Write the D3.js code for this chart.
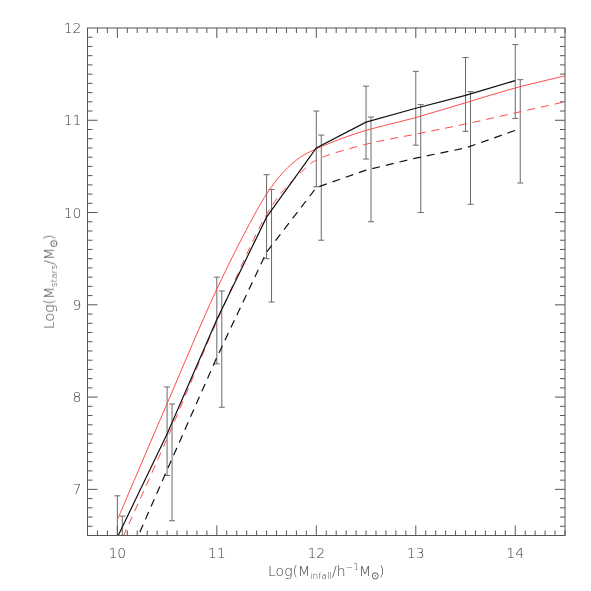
<!DOCTYPE html>
<html>
<head>
<meta charset="utf-8">
<script src="https://cdn.jsdelivr.net/npm/d3@7"></script>
<style>
    body { margin: 0; background: #fff; }
    text { font-family: 'DejaVu Sans', 'Liberation Sans', sans-serif; font-weight: 200; fill: #3a3a3a; }
    .labels { opacity: 0.99; }
</style>
</head>
<body>
<div id="chart"></div>
<script>
// binned halo mass (black curves + error bars)
const massBins = [10, 10.5, 11, 11.5, 12, 12.5, 13, 13.5, 14];
const solidMedian = [6.48, 7.6, 8.84, 9.95, 10.7, 10.98, 11.13, 11.27, 11.43];
const dashedMedian = [5.98, 7.21, 8.43, 9.57, 10.27, 10.46, 10.59, 10.7, 10.89];
const solidHi = [6.93, 8.11, 9.3, 10.41, 11.1, 11.37, 11.53, 11.68, 11.82];
const solidLo = [6.03, 7.15, 8.36, 9.5, 10.28, 10.58, 10.73, 10.88, 11.02];
const dashedHi = [6.71, 7.925, 9.15, 10.25, 10.84, 11.035, 11.17, 11.31, 11.44];
const dashedLo = [5.25, 6.66, 7.89, 9.03, 9.7, 9.9, 10.0, 10.09, 10.32];
const binOffset = 0.05;

// red model curves
const fitX = [10, 10.5, 11, 11.33, 11.5, 11.67, 11.84, 12, 12.25, 12.5, 13, 13.5, 14, 14.5];
const fitSolid = [6.67, 7.93, 9.17, 9.88, 10.2, 10.44, 10.6, 10.69, 10.8, 10.89, 11.03, 11.19, 11.35, 11.48];
const fitDashedX = [10, 10.5, 11, 11.5, 11.67, 11.88, 12, 12.5, 13, 13.5, 14, 14.5];
const fitDashed = [6.35, 7.55, 8.82, 9.98, 10.24, 10.47, 10.57, 10.74, 10.85, 10.96, 11.08, 11.2];

const xTicks = [10, 11, 12, 13, 14];
const yTicks = [7, 8, 9, 10, 11, 12];

const width = 591, height = 591;
const margin = { top: 28, right: 26, bottom: 55.5, left: 87.5 };

const x = d3.scaleLinear().domain([9.7, 14.5]).range([margin.left, width - margin.right]);
const y = d3.scaleLinear().domain([6.5, 12]).range([height - margin.bottom, margin.top]);

const svg = d3.select('#chart').append('svg').attr('width', width).attr('height', height);

svg.append('clipPath').attr('id', 'plot')
    .append('rect')
    .attr('x', x(9.7)).attr('y', y(12))
    .attr('width', x(14.5) - x(9.7)).attr('height', y(6.5) - y(12));

const plot = svg.append('g').attr('clip-path', 'url(#plot)');

// error bars
function errorBars(xs, hi, lo) {
    const g = plot.append('g').attr('stroke', '#6a6a6a').attr('stroke-width', 1);
    xs.forEach((v, i) => {
        g.append('line').attr('x1', x(v)).attr('x2', x(v)).attr('y1', y(hi[i])).attr('y2', y(lo[i]));
        [hi[i], lo[i]].forEach((e) =>
            g.append('line').attr('x1', x(v) - 3).attr('x2', x(v) + 3).attr('y1', y(e)).attr('y2', y(e))
        );
    });
}
errorBars(massBins, solidHi, solidLo);
errorBars(massBins.map((d) => d + binOffset), dashedHi, dashedLo);

const line = d3.line().x((d) => x(d[0])).y((d) => y(d[1]));
const smooth = d3.line().x((d) => x(d[0])).y((d) => y(d[1])).curve(d3.curveCatmullRom.alpha(0.5));

plot.append('path')
    .attr('d', smooth(d3.zip(fitX, fitSolid)))
    .attr('fill', 'none').attr('stroke', '#ff4a4a').attr('stroke-width', 1);
plot.append('path')
    .attr('d', smooth(d3.zip(fitDashedX, fitDashed)))
    .attr('fill', 'none').attr('stroke', '#ff4a4a').attr('stroke-width', 1)
    .attr('stroke-dasharray', '8,6');
plot.append('path')
    .attr('d', line(d3.zip(massBins, solidMedian)))
    .attr('fill', 'none').attr('stroke', '#111').attr('stroke-width', 1.2);
plot.append('path')
    .attr('d', line(d3.zip(massBins, dashedMedian)))
    .attr('fill', 'none').attr('stroke', '#111').attr('stroke-width', 1.2)
    .attr('stroke-dasharray', '8,6');

// frame with inward ticks on all four sides
const minorX = d3.range(98, 146).map((d) => d / 10);
const minorY = d3.range(66, 120).map((d) => d / 10);
const isMajor = (v) => Math.abs(v - Math.round(v)) < 1e-6;

const axisG = svg.append('g').attr('stroke', '#555').attr('stroke-width', 1);
axisG.append('rect')
    .attr('x', x(9.7)).attr('y', y(12))
    .attr('width', x(14.5) - x(9.7)).attr('height', y(6.5) - y(12))
    .attr('fill', 'none');

minorX.forEach((v) => {
    const len = isMajor(v) ? 10 : 5;
    axisG.append('line').attr('x1', x(v)).attr('x2', x(v)).attr('y1', y(6.5)).attr('y2', y(6.5) - len);
    axisG.append('line').attr('x1', x(v)).attr('x2', x(v)).attr('y1', y(12)).attr('y2', y(12) + len);
});
minorY.forEach((v) => {
    const len = isMajor(v) ? 10 : 5;
    axisG.append('line').attr('x1', x(9.7)).attr('x2', x(9.7) + len).attr('y1', y(v)).attr('y2', y(v));
    axisG.append('line').attr('x1', x(14.5)).attr('x2', x(14.5) - len).attr('y1', y(v)).attr('y2', y(v));
});

const labels = svg.append('g').attr('class', 'labels');

labels.append('g').selectAll('text')
    .data(xTicks)
    .join('text')
    .attr('x', (d) => x(d))
    .attr('y', y(6.5) + 22)
    .attr('text-anchor', 'middle')
    .style('font-size', '14px')
    .text((d) => d);

labels.append('g').selectAll('text')
    .data(yTicks)
    .join('text')
    .attr('x', x(9.7) - 6)
    .attr('y', (d) => y(d) + 5)
    .attr('text-anchor', 'end')
    .style('font-size', '14px')
    .text((d) => d);

// axis titles
const xTitle = labels.append('text')
    .attr('x', (x(9.7) + x(14.5)) / 2)
    .attr('y', y(6.5) + 40)
    .attr('text-anchor', 'middle')
    .style('font-size', '14px');
xTitle.append('tspan').text('Log(M');
xTitle.append('tspan').attr('baseline-shift', '-3').style('font-size', '9px').text('infall');
xTitle.append('tspan').text('/h');
xTitle.append('tspan').attr('baseline-shift', '6').style('font-size', '9px').text('\u22121');
xTitle.append('tspan').text('M');
xTitle.append('tspan').attr('baseline-shift', '-3').style('font-size', '10px').text('\u2299');
xTitle.append('tspan').text(')');

const yTitle = labels.append('text')
    .attr('transform', `translate(54,${(y(6.5) + y(12)) / 2}) rotate(-90)`)
    .attr('text-anchor', 'middle')
    .style('font-size', '14px');
yTitle.append('tspan').text('Log(M');
yTitle.append('tspan').attr('baseline-shift', '-3').style('font-size', '9px').text('stars');
yTitle.append('tspan').text('/M');
yTitle.append('tspan').attr('baseline-shift', '-3').style('font-size', '10px').text('\u2299');
yTitle.append('tspan').text(')');
</script>
</body>
</html>
